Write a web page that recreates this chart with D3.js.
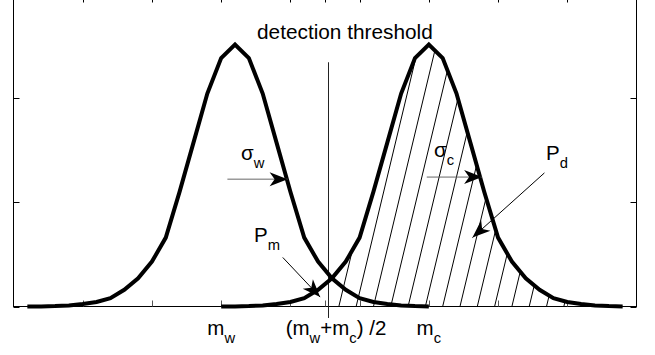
<!DOCTYPE html>
<html lang="en">
<head>
<meta charset="UTF-8">
<title>detection threshold</title>
<script src="https://cdn.jsdelivr.net/npm/d3@7/dist/d3.min.js"></script>
<style>
    body { margin: 0; background: #fff; }
    svg { display: block; font-family: "Liberation Sans", Arial, Helvetica, sans-serif; }
</style>
</head>
<body>
<svg width="655" height="355"></svg>
<script>
// curve samples (axis units)
var xWrong = [0.2,0.4,0.6,0.8,1.0,1.2,1.4,1.6,1.8,2.0,2.2,2.4,2.6,2.8,3.0,3.2,3.4,3.6,3.8,4.0,4.2,4.4,4.6,4.8,5.0,5.2,5.4,5.6,5.8,6.0];
var yWrong = [0,0.001,0.004,0.01,0.024,0.043,0.08,0.16,0.27,0.43,0.66,1.10,1.57,2.04,2.38,2.51,2.38,2.04,1.57,1.10,0.66,0.43,0.27,0.16,0.08,0.043,0.024,0.01,0.004,0.001];
var xCorrect = [3.0,3.2,3.4,3.6,3.8,4.0,4.2,4.4,4.6,4.8,5.0,5.2,5.4,5.6,5.8,6.0,6.2,6.4,6.6,6.8,7.0,7.2,7.4,7.6,7.8,8.0,8.2,8.4,8.6,8.8];
var yCorrect = [0,0.001,0.004,0.01,0.024,0.043,0.08,0.16,0.27,0.43,0.66,1.10,1.57,2.04,2.38,2.51,2.38,2.04,1.57,1.10,0.66,0.43,0.27,0.16,0.08,0.043,0.024,0.01,0.004,0.001];

var threshold = 4.55;
var xTicks = [1, 2, 3, 4, 4.5, 5, 6, 7, 8];
var yTicks = [0, 1, 2];
var labelTicks = [3, 4.5, 6];
var tickLabels = [
    [["m", ""], ["w", "sub"]],
    [["(m", ""], ["w", "sub"], ["+m", ""], ["c", "sub"], [") /2", ""]],
    [["m", ""], ["c", "sub"]]
];

var svg = d3.select("svg");

var x = d3.scaleLinear().domain([0, 9]).range([13.5, 636.5]);
var y = d3.scaleLinear().domain([0, 2.97]).range([306.5, -3.5]);

// hatched area (P_d): under the right curve, right of the threshold
var defs = svg.append("defs");
var area = d3.area()
    .x(function (d) { return x(d[0]); })
    .y0(y(0))
    .y1(function (d) { return y(d[1]); });
defs.append("clipPath").attr("id", "underC")
    .append("path")
    .attr("d", area(d3.zip(xCorrect, yCorrect)));
defs.append("clipPath").attr("id", "rightOfT")
    .append("rect")
    .attr("x", x(threshold))
    .attr("y", y(2.97))
    .attr("width", x(9) - x(threshold))
    .attr("height", y(0) - y(2.97));

var hatch = svg.append("g").attr("clip-path", "url(#rightOfT)")
    .append("g").attr("clip-path", "url(#underC)");
var slope = 0.24;
d3.range(4.2, 8.8, 0.25).forEach(function (h) {
    hatch.append("line")
        .attr("x1", x(h))
        .attr("y1", y(0))
        .attr("x2", x(h) + slope * 330)
        .attr("y2", y(0) - 330)
        .attr("stroke", "#000")
        .attr("stroke-width", 1);
});

// frame and ticks
var frame = svg.append("g").attr("class", "frame");
frame.append("rect")
    .attr("x", x(0)).attr("y", y(2.97))
    .attr("width", x(9) - x(0)).attr("height", y(0) - y(2.97))
    .attr("fill", "none").attr("stroke", "#000").attr("stroke-width", 1);

xTicks.forEach(function (t) {
    var px = Math.round(x(t)) + 0.5;
    frame.append("line").attr("x1", px).attr("x2", px)
        .attr("y1", y(2.97)).attr("y2", y(2.97) + 6)
        .attr("stroke", "#000");
    frame.append("line").attr("x1", px).attr("x2", px)
        .attr("y1", y(0)).attr("y2", y(0) - 6)
        .attr("stroke", "#555");
});
yTicks.forEach(function (t) {
    var py = Math.round(y(t)) + 0.5;
    frame.append("line").attr("x1", x(0)).attr("x2", x(0) + 6)
        .attr("y1", py).attr("y2", py).attr("stroke", "#000");
    frame.append("line").attr("x1", x(9)).attr("x2", x(9) - 6)
        .attr("y1", py).attr("y2", py).attr("stroke", "#000");
});

// detection threshold
svg.append("line")
    .attr("x1", Math.round(x(threshold)) + 0.5)
    .attr("x2", Math.round(x(threshold)) + 0.5)
    .attr("y1", y(2.34)).attr("y2", y(-0.11))
    .attr("stroke", "#222").attr("stroke-width", 1);

// the two distributions
var line = d3.line()
    .x(function (d) { return x(d[0]); })
    .y(function (d) { return y(d[1]); });
[[xWrong, yWrong], [xCorrect, yCorrect]].forEach(function (c) {
    svg.append("path")
        .attr("d", line(d3.zip(c[0], c[1])))
        .attr("fill", "none")
        .attr("stroke", "#000")
        .attr("stroke-width", 4)
        .attr("stroke-linejoin", "miter");
});

// tex-like text: parts of [string, "sub" | ""]
function texText(g, parts, px, py, anchor, size) {
    var t = g.append("text")
        .attr("x", px).attr("y", py)
        .attr("text-anchor", anchor)
        .attr("font-size", size)
        .attr("fill", "#000");
    var low = false;
    parts.forEach(function (p) {
        var sub = p[1] === "sub";
        var dy = 0;
        if (sub && !low) { dy = 8; low = true; }
        else if (!sub && low) { dy = -8; low = false; }
        t.append("tspan")
            .attr("dy", dy)
            .attr("font-size", sub ? size * 0.72 : size)
            .text(p[0]);
    });
    return t;
}

labelTicks.forEach(function (t, i) {
    texText(svg, tickLabels[i], x(t) + (i === 1 ? 11 : 0), 335, "middle", 20.5);
});

svg.append("text")
    .attr("x", 257).attr("y", 39)
    .attr("font-size", 20.8)
    .text("detection threshold");

// arrows
function arrow(x1, y1, x2, y2, col) {
    svg.append("line")
        .attr("x1", x(x1)).attr("y1", y(y1))
        .attr("x2", x(x2)).attr("y2", y(y2))
        .attr("stroke", col).attr("stroke-width", 1);
    var ang = Math.atan2(y(y2) - y(y1), x(x2) - x(x1)) * 180 / Math.PI;
    svg.append("path")
        .attr("d", "M0,0L-18,-7L-13,0L-18,7Z")
        .attr("transform", "translate(" + x(x2) + "," + y(y2) + ") rotate(" + ang + ")")
        .attr("fill", "#000");
}
arrow(3.09, 1.22, 3.96, 1.22, "#666");
arrow(5.97, 1.24, 6.77, 1.24, "#666");
arrow(7.67, 1.28, 6.63, 0.66, "#000");
arrow(3.89, 0.47, 4.43, 0.09, "#000");

texText(svg, [["\u03c3", ""], ["w", "sub"]], 241, 160, "start", 20.5);
texText(svg, [["\u03c3", ""], ["c", "sub"]], 434, 157, "start", 20.5);
texText(svg, [["P", ""], ["d", "sub"]], 546, 160, "start", 20.5);
texText(svg, [["P", ""], ["m", "sub"]], 254, 242, "start", 20.5);
</script>
</body>
</html>
